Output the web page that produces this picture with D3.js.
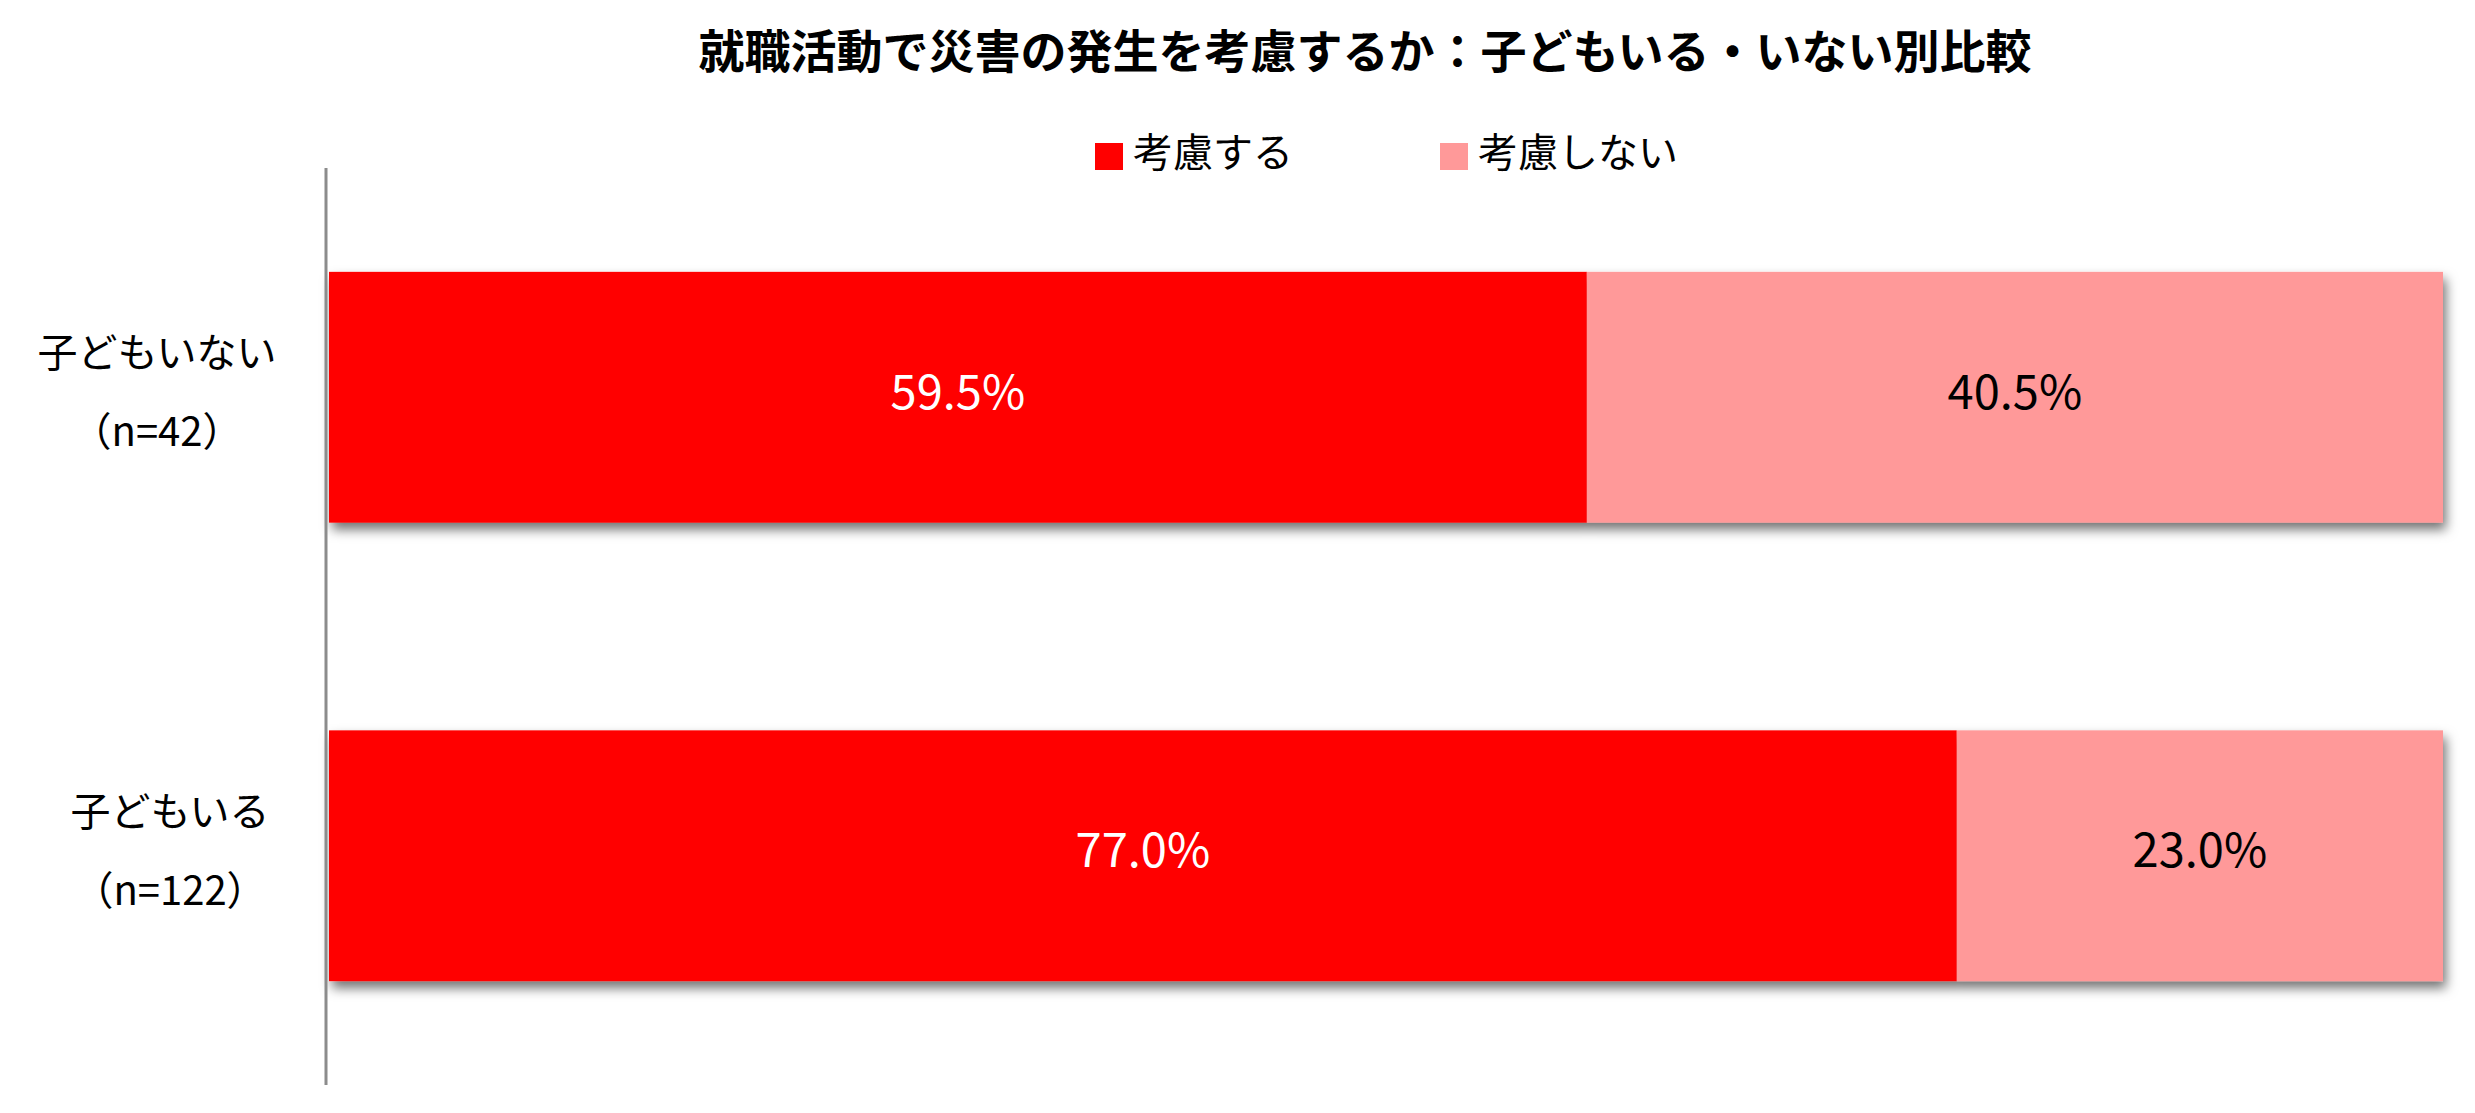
<!DOCTYPE html>
<html>
<head>
<meta charset="utf-8">
<script src="https://cdn.jsdelivr.net/npm/d3@7"></script>
<style>
  html, body { margin: 0; padding: 0; background: #ffffff; }
  svg { display: block; }
  text { font-family: "Noto Sans CJK JP", "Noto Sans", sans-serif; }
</style>
</head>
<body>
<script>
// ---- data ----
const title = "就職活動で災害の発生を考慮するか：子どもいる・いない別比較";
const categories = ["子どもいない", "子どもいる"];
const sampleSizes = ["（n=42）", "（n=122）"];
const seriesNames = ["考慮する", "考慮しない"];
const consider = [59.5, 77.0];
const notConsider = [40.5, 23.0];
const seriesColors = ["#ff0000", "#ff9999"];
const labelColors = ["#ffffff", "#000000"];

// ---- layout ----
const W = 2475, H = 1113;
const svg = d3.select("body").append("svg").attr("width", W).attr("height", H);

const defs = svg.append("defs");
const f = defs.append("filter").attr("id", "shadow")
  .attr("x", "-5%").attr("y", "-20%").attr("width", "110%").attr("height", "150%");
f.append("feDropShadow").attr("dx", 3).attr("dy", 7).attr("stdDeviation", 6)
  .attr("flood-color", "#000").attr("flood-opacity", 0.55);

const x = d3.scaleLinear().domain([0, 100]).range([329, 2443]);
const y = d3.scaleBand().domain(categories).range([168, 1085])
  .paddingInner(0.453).paddingOuter(0.2265);

// title
svg.append("text").attr("x", 1365).attr("y", 48)
  .attr("text-anchor", "middle").attr("dominant-baseline", "central")
  .attr("font-size", 46).attr("font-weight", "bold").attr("fill", "#000")
  .text(title);

// legend
const legendX = [1095, 1440];
const lg = svg.append("g");
seriesNames.forEach((s, i) => {
  lg.append("rect").attr("x", legendX[i]).attr("y", 143).attr("width", 28).attr("height", 27)
    .attr("fill", seriesColors[i]);
  lg.append("text").attr("x", legendX[i] + 38).attr("y", 150)
    .attr("dominant-baseline", "central").attr("font-size", 40).attr("fill", "#000")
    .text(s);
});

// stacked data
const rows = categories.map((c, i) => ({ cat: c, n: sampleSizes[i] }));
const stackData = categories.map((c, i) => ({ cat: c, a: consider[i], b: notConsider[i] }));
const stack = d3.stack().keys(["a", "b"])(stackData);

const bars = svg.append("g").attr("filter", "url(#shadow)");
stack.forEach((layer, si) => {
  bars.selectAll(null).data(layer).enter().append("rect")
    .attr("x", d => x(d[0]))
    .attr("y", d => y(d.data.cat))
    .attr("width", d => x(d[1]) - x(d[0]))
    .attr("height", y.bandwidth())
    .attr("fill", seriesColors[si]);
});

// value labels
stack.forEach((layer, si) => {
  svg.append("g").selectAll("text").data(layer).enter().append("text")
    .attr("x", d => (x(d[0]) + x(d[1])) / 2)
    .attr("y", d => y(d.data.cat) + y.bandwidth() / 2 - 9)
    .attr("text-anchor", "middle").attr("dominant-baseline", "central")
    .attr("font-size", 47).attr("fill", labelColors[si])
    .text(d => (d[1] - d[0]).toFixed(1) + "%");
});

// axis line
svg.append("line").attr("x1", 326).attr("x2", 326).attr("y1", 168).attr("y2", 1085)
  .attr("stroke", "#8c8c8c").attr("stroke-width", 3);

// category labels
const labelCx = [157, 170];
rows.forEach((r, i) => {
  const cy = y(r.cat) + y.bandwidth() / 2;
  svg.append("text").attr("x", labelCx[i]).attr("y", cy - 47)
    .attr("text-anchor", "middle").attr("dominant-baseline", "central")
    .attr("font-size", 40).attr("fill", "#000").text(r.cat);
  svg.append("text").attr("x", labelCx[i]).attr("y", cy + 32)
    .attr("text-anchor", "middle").attr("dominant-baseline", "central")
    .attr("font-size", 40).attr("fill", "#000").text(r.n);
});
</script>
</body>
</html>
